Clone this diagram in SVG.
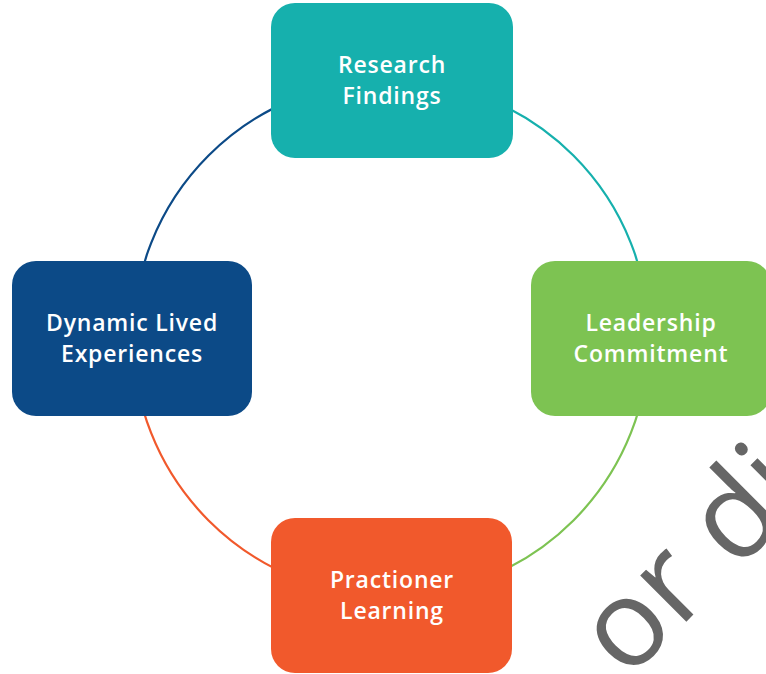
<svg xmlns="http://www.w3.org/2000/svg" width="766" height="674" viewBox="0 0 766 674">
  <style>
    .box { stroke: none; }
    .label { font-family: "Open Sans", Lato, "Liberation Sans", sans-serif; font-weight: 600; font-size: 23px; fill: #ffffff; text-anchor: middle; font-variant-ligatures: none; letter-spacing: 0.8px; }
    .arc { fill: none; stroke-width: 2.2; }
    .mark { font-family: "Open Sans", "Liberation Sans", sans-serif; font-size: 122px; fill: #666666; }
  </style>
  <rect width="766" height="674" fill="#ffffff"/>

  <!-- cycle ring, one arc per quadrant -->
  <g id="connectors">
    <path class="arc" stroke="#16b0ad" d="M391 80 A258 258 0 0 1 649 338"/>
    <path class="arc" stroke="#7dc352" d="M649 338 A258 258 0 0 1 391 596"/>
    <path class="arc" stroke="#f1592c" d="M391 596 A258 258 0 0 1 133 338"/>
    <path class="arc" stroke="#0c4a87" d="M133 338 A258 258 0 0 1 391 80"/>
  </g>

  <g id="research-findings">
    <rect class="box" x="271" y="3" width="242" height="155" rx="24" fill="#16b0ad"/>
    <text class="label" x="392" y="73">Research</text>
    <text class="label" x="392" y="104">Findings</text>
  </g>

  <g id="leadership-commitment">
    <rect class="box" x="531" y="261" width="240" height="155" rx="24" fill="#7dc352"/>
    <text class="label" x="651" y="331">Leadership</text>
    <text class="label" x="651" y="362">Commitment</text>
  </g>

  <g id="practioner-learning">
    <rect class="box" x="271" y="518" width="241" height="155" rx="24" fill="#f1592c"/>
    <text class="label" x="392" y="588">Practioner</text>
    <text class="label" x="392" y="619">Learning</text>
  </g>

  <g id="dynamic-lived-experiences">
    <rect class="box" x="12" y="261" width="240" height="155" rx="24" fill="#0c4a87"/>
    <text class="label" x="132" y="331">Dynamic Lived</text>
    <text class="label" x="132" y="362">Experiences</text>
  </g>

  <text class="mark" transform="translate(627 681) rotate(-45)">or di</text>
</svg>
